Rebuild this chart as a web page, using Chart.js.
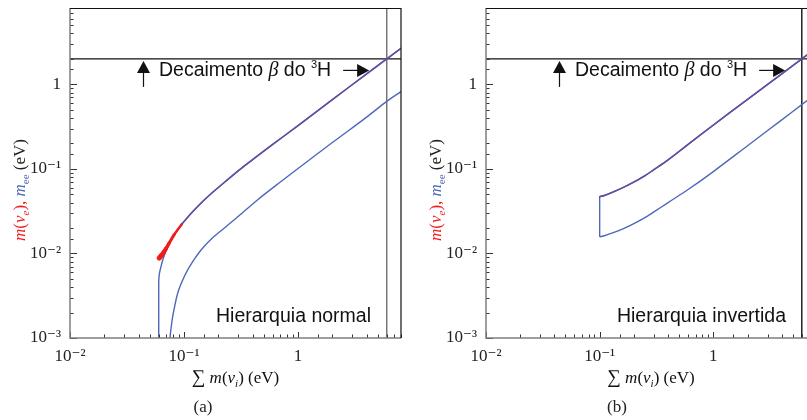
<!DOCTYPE html>
<html lang="pt">
<head>
<meta charset="UTF-8">
<title>Massa dos neutrinos</title>
<script src="https://cdn.jsdelivr.net/npm/chart.js"></script>
<style>
  body { margin: 0; background: #fff; }
  #wrap { position: relative; width: 807px; height: 420px; overflow: hidden; }
  #wrap canvas { position: absolute; top: 0; }
  #chartA { left: 0; }
  #chartB { left: 410px; }
  .caption {
    position: absolute; top: 397px; width: 60px; margin-left: -30px;
    text-align: center; font: 17px 'Liberation Serif', 'DejaVu Serif', serif; color: #222;
  }
</style>
</head>
<body>
<div id="wrap">
  <canvas id="chartA" width="410" height="420"></canvas>
  <canvas id="chartB" width="420" height="420"></canvas>
  <div class="caption" style="left:203px">(a)</div>
  <div class="caption" style="left:617px">(b)</div>
</div>

<script>
// axis ticks
const xTickValues = [0.01, 0.1, 1];
const xTickLabels = ['10⁻²', '10⁻¹', '1'];
const yTickValues = [0.001, 0.01, 0.1, 1];
const yTickLabels = ['10⁻³', '10⁻²', '10⁻¹', '1'];

// tritium beta decay limits (eV)
const tritiumMass = 2.0;
const tritiumSum = 6.0;

// normal hierarchy
const sumNHEdge = [0.060, 0.060];
const meeNHEdge = [0.0005, 0.0046];
const sumNHMax = [0.060, 0.0603, 0.061, 0.0628, 0.0655, 0.0695, 0.0742, 0.082, 0.0956, 0.1074, 0.1195, 0.1449, 0.1715, 0.2265, 0.312, 0.6, 1.0, 2.0, 4.0, 6.0, 8.0];
const meeNHMax = [0.0046, 0.0052, 0.0059, 0.0070, 0.0086, 0.0108, 0.0130, 0.0166, 0.0222, 0.0267, 0.0313, 0.0408, 0.0505, 0.0695, 0.0995, 0.195, 0.325, 0.66, 1.33, 2.0, 2.67];
const sumNHBeta = [0.0605, 0.063, 0.0665, 0.0695, 0.0742, 0.082, 0.0956, 0.1074, 0.1195, 0.1449, 0.1715, 0.2265, 0.312, 0.6, 1.0, 2.0, 4.0, 6.0, 8.0];
const mBetaNH = [0.0088, 0.0094, 0.0104, 0.0114, 0.0133, 0.0167, 0.0222, 0.0267, 0.0313, 0.0408, 0.0505, 0.0695, 0.0995, 0.195, 0.325, 0.66, 1.33, 2.0, 2.67];
const sumNHMin = [0.0735, 0.0754, 0.0775, 0.0796, 0.084, 0.0881, 0.095, 0.1077, 0.125, 0.141, 0.18, 0.226, 0.3, 0.443, 0.7, 1.0, 2.0, 4.0, 6.0, 8.0];
const meeNHMin = [0.0004, 0.001, 0.0014, 0.0018, 0.0026, 0.0034, 0.0045, 0.0064, 0.0088, 0.011, 0.0155, 0.020, 0.0275, 0.0432, 0.070, 0.101, 0.205, 0.41, 0.63, 0.82];

// inverted hierarchy
const sumIHEdge = [0.1, 0.1];
const meeIHEdge = [0.0157, 0.047];
const sumIHMax = [0.1, 0.11, 0.13, 0.16, 0.2, 0.25, 0.3, 0.4, 0.6, 1.0, 2.0, 4.0, 6.0, 8.0];
const meeIHMax = [0.047, 0.0485, 0.053, 0.060, 0.070, 0.083, 0.098, 0.128, 0.195, 0.33, 0.665, 1.33, 2.0, 2.67];
const sumIHMin = [0.1, 0.11, 0.13, 0.16, 0.2, 0.25, 0.3, 0.4, 0.6, 1.0, 2.0, 4.0, 6.0, 8.0];
const meeIHMin = [0.0157, 0.0162, 0.0175, 0.0195, 0.0225, 0.0265, 0.031, 0.040, 0.057, 0.093, 0.188, 0.38, 0.575, 0.77];

const RED = '#f01c1c';
const BLUE = '#4f67b9';
const PURPLE = '#6a4a9c';
const SERIF = "'Liberation Serif', 'DejaVu Serif', serif";
const SANS = "'Liberation Sans', Arial, sans-serif";
const redUntil = 0.09;

function pts(xs, ys) {
  return xs.map((x, i) => ({ x: x, y: ys[i] }));
}

function isDecade(v) {
  const l = Math.log10(v);
  return Math.abs(l - Math.round(l)) < 1e-6;
}

function tickLabel(values, labels) {
  return function (v) {
    const i = values.findIndex(t => Math.abs(t - v) / t < 1e-6);
    return i >= 0 ? labels[i] : '';
  };
}

// draw a row of differently styled text pieces
function drawRuns(ctx, x, y, runs, align) {
  let w = 0;
  runs.forEach(r => { ctx.font = r.font; w += ctx.measureText(r.t).width; });
  let cx = align === 'center' ? x - w / 2 : (align === 'right' ? x - w : x);
  ctx.textAlign = 'left';
  ctx.textBaseline = 'alphabetic';
  runs.forEach(r => {
    ctx.font = r.font;
    ctx.fillStyle = r.color || '#111';
    ctx.fillText(r.t, cx, y + (r.dy || 0));
    cx += ctx.measureText(r.t).width;
  });
  return cx;
}

function arrowUp(ctx, x, tip, tail) {
  ctx.beginPath(); ctx.moveTo(x, tail); ctx.lineTo(x, tip + 10); ctx.stroke();
  ctx.beginPath(); ctx.moveTo(x, tip); ctx.lineTo(x - 6.5, tip + 12); ctx.lineTo(x + 6.5, tip + 12); ctx.closePath(); ctx.fill();
}

function arrowRight(ctx, x0, x1, y) {
  ctx.beginPath(); ctx.moveTo(x0, y); ctx.lineTo(x1 - 10, y); ctx.stroke();
  ctx.beginPath(); ctx.moveTo(x1, y); ctx.lineTo(x1 - 12, y - 6.5); ctx.lineTo(x1 - 12, y + 6.5); ctx.closePath(); ctx.fill();
}

const framePlugin = {
  id: 'frame',
  afterDatasetsDraw(chart, args, opts) {
    const { ctx, chartArea: a, scales } = chart;
    ctx.save();

    // inward tick marks
    ctx.strokeStyle = '#333';
    ctx.lineWidth = 1;
    scales.x.ticks.forEach(t => {
      const px = Math.round(scales.x.getPixelForValue(t.value)) + 0.5;
      const len = isDecade(t.value) ? 6 : 3.5;
      ctx.beginPath(); ctx.moveTo(px, a.bottom); ctx.lineTo(px, a.bottom - len); ctx.stroke();
    });
    scales.y.ticks.forEach(t => {
      const py = Math.round(scales.y.getPixelForValue(t.value)) + 0.5;
      const len = isDecade(t.value) ? 7 : 3.5;
      ctx.beginPath(); ctx.moveTo(a.left, py); ctx.lineTo(a.left + len, py); ctx.stroke();
    });

    // frame: grey axes left/bottom, black top/right
    ctx.strokeStyle = '#7d7d7d';
    ctx.lineWidth = 1.5;
    ctx.beginPath();
    ctx.moveTo(a.left, a.top); ctx.lineTo(a.left, a.bottom); ctx.lineTo(a.right, a.bottom);
    ctx.stroke();
    ctx.strokeStyle = '#111';
    ctx.lineWidth = 1.2;
    ctx.beginPath();
    ctx.moveTo(a.left, a.top + 0.5); ctx.lineTo(a.right, a.top + 0.5); ctx.lineTo(a.right, a.bottom);
    ctx.stroke();

    // tritium annotation
    ctx.strokeStyle = '#111';
    ctx.fillStyle = '#111';
    ctx.lineWidth = 1.2;
    const hy = scales.y.getPixelForValue(tritiumMass);
    arrowUp(ctx, a.left + 73.5, hy + 2, hy + 28);
    const endX = drawRuns(ctx, a.left + 89, hy + 17, [
      { t: 'Decaimento ', font: '19.5px ' + SANS },
      { t: 'β', font: 'italic 20px ' + SERIF },
      { t: ' do ', font: '19.5px ' + SANS },
      { t: '3', font: '11px ' + SANS, dy: -8 },
      { t: 'H', font: '19.5px ' + SANS }
    ], 'left');
    arrowRight(ctx, endX + 12, endX + 38, hy + 11.5);

    // hierarchy label
    drawRuns(ctx, a.right - 30, a.bottom - 16, [{ t: opts.label, font: '19.5px ' + SANS }], 'right');

    // x title
    const cx = (a.left + a.right) / 2;
    drawRuns(ctx, cx, a.bottom + 45, [
      { t: '∑', font: '19px ' + SERIF },
      { t: ' m', font: 'italic 17px ' + SERIF },
      { t: '(', font: '17px ' + SERIF },
      { t: 'ν', font: 'italic 17px ' + SERIF },
      { t: 'i', font: 'italic 11px ' + SERIF, dy: 4 },
      { t: ') (eV)', font: '17px ' + SERIF }
    ], 'center');

    // y title, rotated
    ctx.translate(a.left - 51, a.top + 182);
    ctx.rotate(-Math.PI / 2);
    drawRuns(ctx, 0, 6, [
      { t: 'm', font: 'italic 17px ' + SERIF, color: RED },
      { t: '(', font: '17px ' + SERIF, color: RED },
      { t: 'ν', font: 'italic 17px ' + SERIF, color: RED },
      { t: 'e', font: 'italic 11px ' + SERIF, color: RED, dy: 4 },
      { t: '), ', font: '17px ' + SERIF, color: RED },
      { t: 'm', font: 'italic 17px ' + SERIF, color: BLUE },
      { t: 'ee', font: '11px ' + SERIF, color: BLUE, dy: 4 },
      { t: ' (eV)', font: '17px ' + SERIF, color: '#222' }
    ], 'center');

    ctx.restore();
  }
};

function makeChart(id, cfg) {
  const line = (data, color, width, extra) => Object.assign({
    data: data, borderColor: color, borderWidth: width, pointRadius: 0,
    fill: false, tension: 0.3, borderJoinStyle: 'round'
  }, extra || {});

  return new Chart(document.getElementById(id), {
    type: 'line',
    data: {
      datasets: [
        line(cfg.beta, PURPLE, 1.5, {
          order: 0,
          borderCapStyle: 'round',
          segment: {
            borderColor: s => s.p0.parsed.x < redUntil ? RED : PURPLE,
            borderWidth: s => s.p0.parsed.x < redUntil ? 5 - 0.5 * s.p0DataIndex : 1.5
          }
        }),
        line(cfg.max, BLUE, 1.4, { order: 1 }),
        line(cfg.min, BLUE, 1.4, { order: 1 }),
        line(cfg.edge, BLUE, 1.4, { order: 1, tension: 0 }),
        line([{ x: 0.01, y: tritiumMass }, { x: 8, y: tritiumMass }], '#111', 1.2, { order: 2, tension: 0 }),
        line([{ x: tritiumSum, y: 0.001 }, { x: tritiumSum, y: 8 }], cfg.vColor, 1.4, { order: 2, tension: 0 })
      ]
    },
    options: {
      responsive: false,
      animation: false,
      layout: { padding: { left: 0, right: cfg.padRight, top: 8, bottom: 0 } },
      plugins: {
        legend: { display: false },
        tooltip: { enabled: false },
        frame: { label: cfg.label }
      },
      scales: {
        x: {
          type: 'logarithmic', min: 0.01, max: 8,
          grid: { display: false, drawTicks: false },
          border: { display: false },
          ticks: {
            autoSkip: false, maxRotation: 0, padding: 8, color: '#222',
            font: { family: SERIF, size: 17 },
            callback: tickLabel(xTickValues, xTickLabels)
          },
          afterFit: s => { s.height = 82; s.paddingLeft = 0; s.paddingRight = 0; }
        },
        y: {
          type: 'logarithmic', min: 0.001, max: 8,
          grid: { display: false, drawTicks: false },
          border: { display: false },
          ticks: {
            autoSkip: false, padding: 9, color: '#222',
            font: { family: SERIF, size: 17 },
            callback: tickLabel(yTickValues, yTickLabels)
          },
          afterFit: s => { s.width = cfg.yWidth; s.paddingTop = 0; s.paddingBottom = 0; }
        }
      }
    },
    plugins: [framePlugin]
  });
}

makeChart('chartA', {
  label: 'Hierarquia normal',
  beta: pts(sumNHBeta, mBetaNH),
  max: pts(sumNHMax, meeNHMax),
  min: pts(sumNHMin, meeNHMin),
  edge: pts(sumNHEdge, meeNHEdge),
  vColor: '#6e6e6e',
  yWidth: 70,
  padRight: 9
});

makeChart('chartB', {
  label: 'Hierarquia invertida',
  beta: pts(sumIHMax, meeIHMax),
  max: pts(sumIHMax, meeIHMax),
  min: pts(sumIHMin, meeIHMin),
  edge: pts(sumIHEdge, meeIHEdge),
  vColor: '#111',
  yWidth: 76,
  padRight: 14
});
</script>
</body>
</html>
